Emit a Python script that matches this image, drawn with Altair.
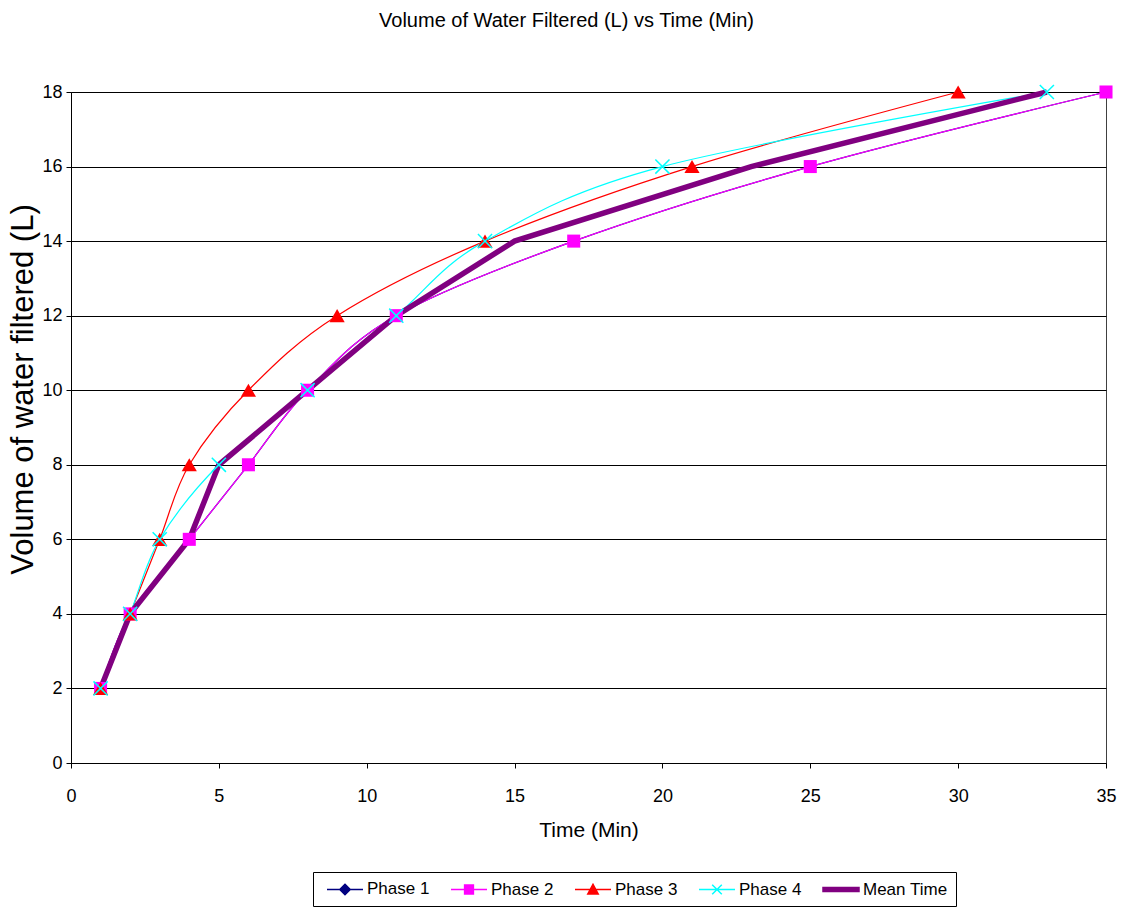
import altair as alt
import pandas as pd

# ---- data ----
series_names = ["Phase 1", "Phase 2", "Phase 3", "Phase 4", "Mean Time"]
volume_l = [2, 4, 6, 8, 10, 12, 14, 16, 18]
time_phase1 = [1, 2, 4, 6, 8, 11, 17, 25, 35]
time_phase2 = [1, 2, 4, 6, 8, 11, 17, 25, 35]
time_phase3 = [1, 2, 3, 4, 6, 9, 14, 21, 30]
time_phase4 = [1, 2, 3, 5, 8, 11, 14, 20, 33]
time_mean = [1, 2, 4, 5, 8, 11, 15, 23, 33]
x_ticks = [0, 5, 10, 15, 20, 25, 30, 35]
y_ticks = [0, 2, 4, 6, 8, 10, 12, 14, 16, 18]

series_times = [time_phase1, time_phase2, time_phase3, time_phase4, time_mean]
colors = ["#000080", "#FF00FF", "#FF0000", "#00FFFF", "#800080"]

rows = []
for name, times in zip(series_names, series_times):
    for t, v in zip(times, volume_l):
        rows.append({"series": name, "time": t, "volume": v})
df = pd.DataFrame(rows)

FONT = "Liberation Sans"

x_enc = alt.X("time:Q", scale=alt.Scale(domain=[0, 35], nice=False),
              axis=alt.Axis(values=x_ticks, title="Time (Min)", grid=False, labelFlush=False))
y_enc = alt.Y("volume:Q", scale=alt.Scale(domain=[0, 18], nice=False),
              axis=alt.Axis(values=y_ticks, title="Volume of water filtered (L)", grid=True,
                            labelFlush=False, titleY=297))

base = alt.Chart(df)

layers = []
# phase lines (smoothed)
for name, col in zip(series_names[:4], colors[:4]):
    layers.append(
        base.transform_filter(alt.datum.series == name)
        .mark_line(color=col, strokeWidth=1.2, interpolate="cardinal", tension=0)
        .encode(x=x_enc, y=y_enc)
    )
# mean line (straight, thick)
layers.append(
    base.transform_filter(alt.datum.series == "Mean Time")
    .mark_line(color=colors[4], strokeWidth=5.5)
    .encode(x=x_enc, y=y_enc)
)
# markers
marker_specs = [
    ("Phase 1", dict(shape="diamond", filled=True, size=90, color=colors[0])),
    ("Phase 2", dict(shape="square", filled=True, size=170, color=colors[1], opacity=1)),
    ("Phase 3", dict(shape="triangle-up", filled=True, size=230, color=colors[2], opacity=1)),
    ("Phase 4", dict(shape="M-1,-1L1,1M-1,1L1,-1", filled=False, size=200,
                     color=colors[3], strokeWidth=1.5, opacity=1)),
]
for name, spec in marker_specs:
    layers.append(
        base.transform_filter(alt.datum.series == name)
        .mark_point(**spec)
        .encode(x=x_enc, y=y_enc)
    )

# legend-only layer (invisible marks, visible legend symbols)
# nominal symbol box 16px (unit = 8px); drawn symbol 36px wide
legend_paths = [
    "M-2.25,0H2.25M0,-0.65L0.65,0L0,0.65L-0.65,0Z",
    "M-2.25,0H2.25M-0.55,-0.55H0.55V0.55H-0.55Z",
    "M-2.25,0H2.25M0,-0.65L0.65,0.55L-0.65,0.55Z",
    "M-2.25,0H2.25M-0.6,-0.6L0.6,0.6M-0.6,0.6L0.6,-0.6",
    "M-2.25,-0.25H2.25V0.25H-2.25Z",
]
legend_scale_fill = alt.Scale(domain=series_names, range=colors)
legend_scale_shape = alt.Scale(domain=series_names, range=legend_paths)
leg = alt.Legend(
    title=None, orient="none", legendX=242, legendY=780, direction="horizontal",
    columns=5, strokeColor="black", fillColor="white", padding=8,
    labelFont=FONT, labelFontSize=17, labelColor="black", labelOffset=13,
    symbolOffset=15, columnPadding=15, symbolSize=256, symbolStrokeWidth=1.5,
    symbolOpacity=1,
)
layers.append(
    base.mark_point(filled=True, opacity=0).encode(
        x=x_enc, y=y_enc,
        fill=alt.Fill("series:N", scale=legend_scale_fill, legend=leg),
        stroke=alt.Stroke("series:N", scale=legend_scale_fill, legend=leg),
        shape=alt.Shape("series:N", scale=legend_scale_shape, legend=leg),
    )
)

chart = (
    alt.layer(*layers)
    .properties(
        width=1035, height=671,
        autosize=alt.AutoSizeParams(type="none"),
        padding={"left": 71, "top": 92, "right": 19, "bottom": 145},
        title=alt.Title("Volume of Water Filtered (L) vs Time (Min)", font=FONT,
                        fontSize=20, fontWeight="normal", color="black",
                        anchor="middle", dx=-22, offset=50),
    )
    .configure_view(stroke="#404040", strokeWidth=1)
    .configure_axis(
        domainColor="black", tickColor="black", tickSize=5, gridColor="black",
        gridOpacity=1, gridWidth=1, labelFont=FONT, labelColor="black",
        titleFont=FONT, titleColor="black", titleFontWeight="normal",
    )
    .configure_axisX(labelFontSize=18, labelPadding=19, titleFontSize=21, titlePadding=14)
    .configure_axisY(labelFontSize=18, labelPadding=4, titleFontSize=31, titlePadding=2)
)

chart.save("out.html", embed_options={"renderer": "svg", "actions": False})
